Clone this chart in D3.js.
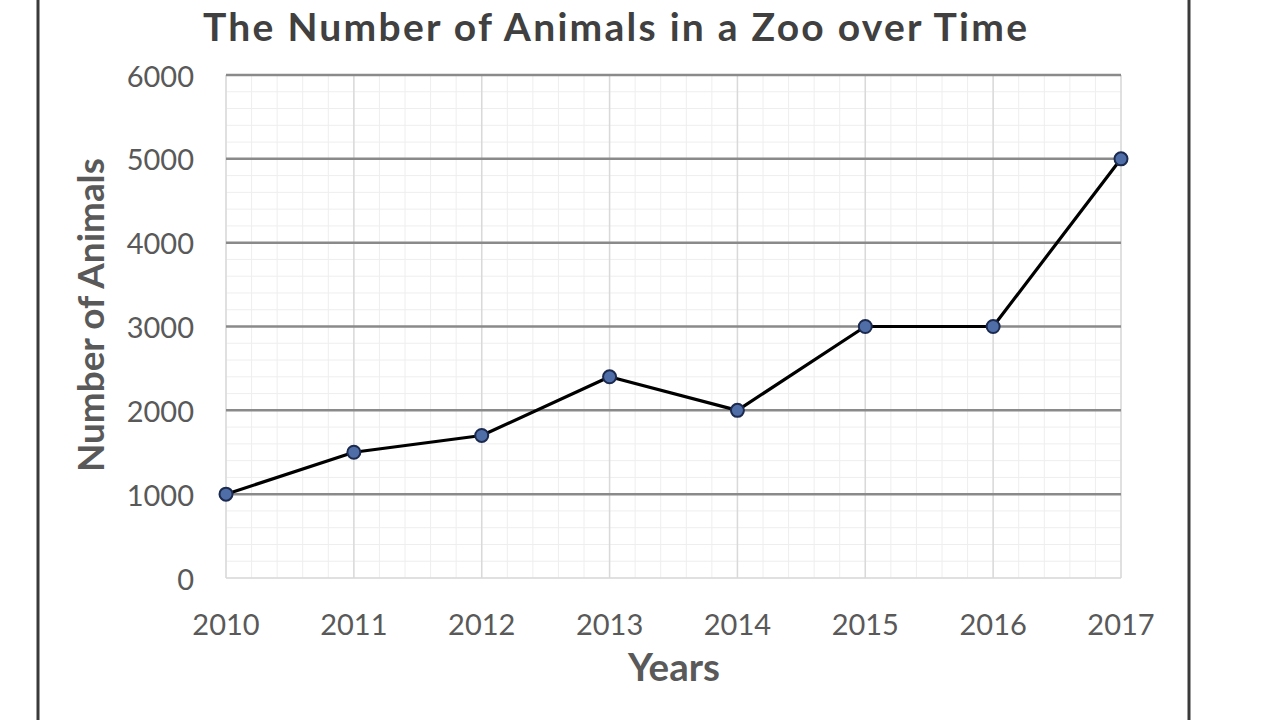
<!DOCTYPE html>
<html>
<head>
<meta charset="utf-8">
<script src="https://cdn.jsdelivr.net/npm/d3@7"></script>
<style>
  html, body { margin: 0; padding: 0; background: #ffffff; }
  svg { display: block; }
  text { font-family: "Lato", "Open Sans", sans-serif; }
</style>
</head>
<body>
<svg id="chart" width="1279" height="720"></svg>
<script>
// ---- data ----
const years = [2010, 2011, 2012, 2013, 2014, 2015, 2016, 2017];
const animals = [1000, 1500, 1700, 2400, 2000, 3000, 3000, 5000];
const yTicks = [0, 1000, 2000, 3000, 4000, 5000, 6000];
const titleText = "The Number of Animals in a Zoo over Time";
const xTitle = "Years";
const yTitle = "Number of Animals";

const svg = d3.select("#chart");
const W = 1279, H = 720;
const plot = { left: 226, right: 1121, top: 75, bottom: 578 };

const x = d3.scaleLinear().domain([2010, 2017]).range([plot.left, plot.right]);
const y = d3.scaleLinear().domain([0, 6000]).range([plot.bottom, plot.top]);

function fitWidth(sel, target) {
  const n = sel.node();
  const fs = parseFloat(sel.attr("font-size"));
  const w = n.getComputedTextLength();
  sel.attr("font-size", (fs * target / w).toFixed(2));
}

svg.append("rect").attr("width", W).attr("height", H).attr("fill", "#ffffff");

// outer frame lines
svg.append("line").attr("x1", 38).attr("x2", 38).attr("y1", 0).attr("y2", H)
  .attr("stroke", "#3a3a3a").attr("stroke-width", 3);
svg.append("line").attr("x1", 1189).attr("x2", 1189).attr("y1", 0).attr("y2", H)
  .attr("stroke", "#3a3a3a").attr("stroke-width", 3);

const g = svg.append("g");

// minor grid
const minorX = d3.range(2010, 2017.0001, 0.2);
const minorY = d3.range(0, 6000.1, 200);
g.selectAll(".mx").data(minorX).join("line")
  .attr("x1", d => x(d)).attr("x2", d => x(d))
  .attr("y1", plot.top).attr("y2", plot.bottom)
  .attr("stroke", "#eeeeee").attr("stroke-width", 1);
g.selectAll(".my").data(minorY).join("line")
  .attr("x1", plot.left).attr("x2", plot.right)
  .attr("y1", d => y(d)).attr("y2", d => y(d))
  .attr("stroke", "#eeeeee").attr("stroke-width", 1);

// major vertical grid
g.selectAll(".vx").data(years).join("line")
  .attr("x1", d => x(d)).attr("x2", d => x(d))
  .attr("y1", plot.top).attr("y2", plot.bottom)
  .attr("stroke", "#d9d9d9").attr("stroke-width", 1.5);

// bottom axis line (light)
g.append("line").attr("x1", plot.left).attr("x2", plot.right)
  .attr("y1", y(0)).attr("y2", y(0)).attr("stroke", "#d9d9d9").attr("stroke-width", 1.5);

// major horizontal grid
g.selectAll(".hy").data(yTicks.filter(d => d > 0)).join("line")
  .attr("x1", plot.left).attr("x2", plot.right)
  .attr("y1", d => y(d)).attr("y2", d => y(d))
  .attr("stroke", "#8a8a8a").attr("stroke-width", 2.5);

// y tick labels
svg.selectAll(".yt").data(yTicks).join("text")
  .attr("x", 194).attr("y", d => y(d))
  .attr("text-anchor", "end").attr("dominant-baseline", "central")
  .attr("font-size", 29).attr("fill", "#595959")
  .text(d => d);

// x tick labels
svg.selectAll(".xt").data(years).join("text")
  .attr("x", d => x(d)).attr("y", 623)
  .attr("text-anchor", "middle").attr("dominant-baseline", "central")
  .attr("font-size", 29).attr("fill", "#595959")
  .text(d => d);

// line
const line = d3.line().x((d, i) => x(years[i])).y(d => y(d));
svg.append("path").datum(animals).attr("d", line)
  .attr("fill", "none").attr("stroke", "#000000").attr("stroke-width", 3.2)
  .attr("stroke-linejoin", "round");

// markers
svg.selectAll(".pt").data(animals).join("circle")
  .attr("cx", (d, i) => x(years[i])).attr("cy", d => y(d)).attr("r", 6.5)
  .attr("fill", "#4f6ea8").attr("stroke", "#1b2a4e").attr("stroke-width", 2);

// title
svg.append("text").attr("x", 615).attr("y", 41)
  .attr("text-anchor", "middle").attr("font-size", 39).attr("font-weight", "bold")
  .attr("textLength", 824).attr("lengthAdjust", "spacing")
  .attr("fill", "#404040").text(titleText);

// x axis title
const xt = svg.append("text").attr("x", 674).attr("y", 681)
  .attr("text-anchor", "middle").attr("font-size", 32).attr("font-weight", "bold")
  .attr("fill", "#595959").text(xTitle);
fitWidth(xt, 92);

// y axis title
const yt = svg.append("text").attr("transform", "translate(104,315) rotate(-90)")
  .attr("text-anchor", "middle").attr("font-size", 30).attr("font-weight", "bold")
  .attr("fill", "#595959").text(yTitle);
fitWidth(yt, 314);
</script>
</body>
</html>
